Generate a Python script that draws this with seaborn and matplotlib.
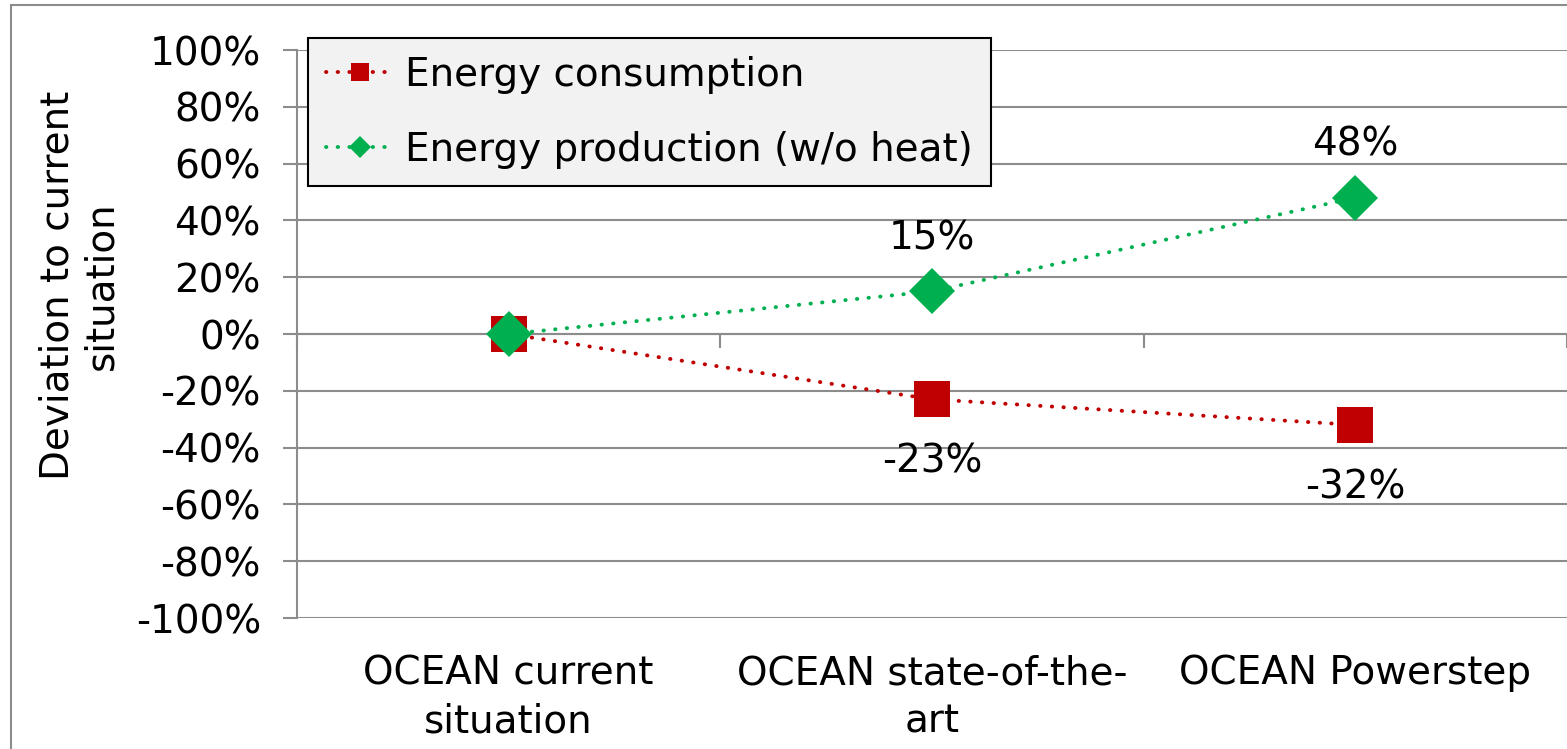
import matplotlib
matplotlib.use("Agg")
import matplotlib.pyplot as plt
from matplotlib.patches import Rectangle
import seaborn as sns
import pandas as pd

# ---- data ----
categories = ["OCEAN current\nsituation", "OCEAN state-of-the-\nart", "OCEAN Powerstep"]
consumption = [0, -23, -32]
production = [0, 15, 48]
series_names = ["Energy consumption", "Energy production (w/o heat)"]
yticks = [-100, -80, -60, -40, -20, 0, 20, 40, 60, 80, 100]
ylabel = "Deviation to current\nsituation"

RED = "#C00000"
GREEN = "#00B050"
GRID = "#8C8C8C"
FS = 28

sns.set_style("white")
plt.rcParams["font.family"] = ["DejaVu Sans"]
plt.rcParams["text.color"] = "black"
plt.rcParams["axes.labelcolor"] = "black"
plt.rcParams["xtick.color"] = "black"
plt.rcParams["ytick.color"] = "black"

fig = plt.figure(figsize=(15.67, 7.49), dpi=100)
ax = fig.add_axes([297 / 1567, 1 - 618 / 749, 1 - 297 / 1567, (618 - 50) / 749])

xs = list(range(len(categories)))
df_c = pd.DataFrame({"x": xs, "y": consumption})
df_p = pd.DataFrame({"x": xs, "y": production})

DOTS = (0, (0.1, 2.9))
sns.lineplot(data=df_c, x="x", y="y", ax=ax, color=RED, marker="s", markersize=26,
             markeredgewidth=0, linewidth=2.8, linestyle=DOTS,
             label=series_names[0], zorder=3)
sns.lineplot(data=df_p, x="x", y="y", ax=ax, color=GREEN, marker="D", markersize=23,
             markeredgewidth=0, linewidth=2.8, linestyle=DOTS,
             label=series_names[1], zorder=4)
for ln in ax.lines:
    ln.set_dash_capstyle("round")

# data labels
for x, v in zip(xs[1:], consumption[1:]):
    ax.annotate(f"{v}%", (x, v), xytext=(0, -45), textcoords="offset points",
                ha="center", va="center", fontsize=FS, color="black")
for x, v in zip(xs[1:], production[1:]):
    ax.annotate(f"{v}%", (x, v), xytext=(0, 38), textcoords="offset points",
                ha="center", va="center", fontsize=FS, color="black")

ax.set_xlim(-0.5, 2.5)
ax.set_ylim(-100, 100)
ax.set_yticks(yticks)
ax.set_yticklabels([f"{t}%" for t in yticks], fontsize=FS, color="black")
ax.grid(axis="y", color=GRID, linewidth=1.5)
ax.grid(axis="x", visible=False)
ax.tick_params(axis="y", direction="out", length=10, width=1.5, color=GRID, pad=16,
               left=True, labelcolor="black")
ax.set_ylabel(ylabel, fontsize=FS, color="black")
ax.yaxis.set_label_coords(-0.139, 0.585)
ax.set_xlabel("")

for s in ["top", "right"]:
    ax.spines[s].set_visible(False)
ax.spines["left"].set_color(GRID)
ax.spines["left"].set_linewidth(1.5)
ax.spines["bottom"].set_position(("data", 0))
ax.spines["bottom"].set_color(GRID)
ax.spines["bottom"].set_linewidth(1.5)
ax.set_xticks(xs)
ax.set_xticklabels([])
ax.tick_params(axis="x", which="major", length=0)
ax.set_xticks([-0.5, 0.5, 1.5, 2.5], minor=True)
ax.tick_params(axis="x", which="minor", direction="out", length=10, width=1.5,
               color=GRID, bottom=True)

sec = ax.secondary_xaxis("bottom")
sec.set_xticks(xs)
sec.set_xticklabels(categories, fontsize=FS, linespacing=1.35, color="black")
sec.tick_params(length=0, pad=26, labelcolor="black")
sec.spines["bottom"].set_visible(False)

leg = ax.legend(loc="upper left", bbox_to_anchor=(0.0087, 1.021), fontsize=FS,
                frameon=True, fancybox=False, framealpha=1, facecolor="#F2F2F2",
                edgecolor="black", borderpad=0.45, labelspacing=0.95,
                handlelength=1.75, handletextpad=0.3, borderaxespad=0,
                markerscale=0.5)
leg.get_frame().set_linewidth(1.5)
for t in leg.get_texts():
    t.set_color("black")
for ln in leg.get_lines():
    ln.set_dash_capstyle("round")

fig.patches.append(Rectangle((11 / 1567, -0.05), 1.0, 1 - 5 / 749 + 0.05,
                             transform=fig.transFigure, fill=False,
                             edgecolor=GRID, linewidth=1.5, zorder=0))

fig.savefig("out.png", dpi=100)
